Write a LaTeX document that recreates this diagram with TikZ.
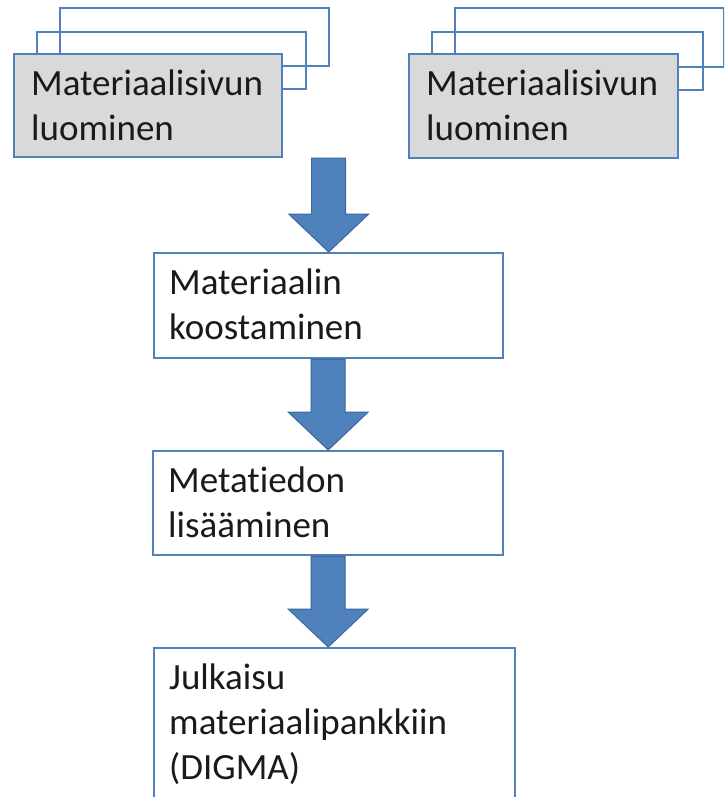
\documentclass[tikz,border=0pt]{standalone}
\usepackage{fontspec}
\setmainfont{Carlito}[Ligatures=NoCommon]
\usetikzlibrary{calc}
\definecolor{office}{HTML}{4F81BD}
\definecolor{officedk}{HTML}{3B679C}
\definecolor{pagegray}{HTML}{D9D9D9}
\definecolor{ink}{HTML}{1A1A1A}

\newcommand{\blkarrow}[2]{%
  \draw[blkarr] ($(#2 |- #1)+(-17,0)$) -- ($(#2)+(-17,-38)$) -- ($(#2)+(-40,-38)$) -- (#2)
    -- ($(#2)+(40,-38)$) -- ($(#2)+(17,-38)$) -- ($(#2 |- #1)+(17,0)$) -- cycle;}

\begin{document}
\begin{tikzpicture}[x=1pt, y=-1pt]
  \tikzset{
    box/.style    ={draw=office, line width=2.4pt, rectangle, inner sep=0pt, anchor=north west},
    backbox/.style={box},
    frontbox/.style={box, fill=pagegray},
    stepbox/.style={box, fill=white},
    txt/.style    ={anchor=base west, inner sep=0pt, align=left, text=ink,
                    font=\fontsize{37}{45}\selectfont},
    blkarr/.style ={fill=office, draw=officedk, line width=1pt, line join=miter},
  }
  \clip (0,0) rectangle (724,797);
  \fill[white] (0,0) rectangle (724,797);

  % left stack (base of the last line is given)
  \node[backbox,  minimum width=269pt, minimum height=58pt]  (lb3) at (59,7) {};
  \node[backbox,  minimum width=269pt, minimum height=57pt]  (lb2) at (36,31) {};
  \node[frontbox, minimum width=268pt, minimum height=103pt] (lb1) at (13,53) {};
  \node[txt] (lt) at ($(lb1.north west)+(18,87)$) {Materiaalisivun\\luominen};

  % right stack
  \node[backbox,  minimum width=269pt, minimum height=59pt]  (rb3) at (454,7) {};
  \node[backbox,  minimum width=271pt, minimum height=58pt]  (rb2) at (431,31) {};
  \node[frontbox, minimum width=269pt, minimum height=104pt] (rb1) at (408,53) {};
  \node[txt] (rt) at ($(rb1.north west)+(18,87)$) {Materiaalisivun\\luominen};

  % steps
  \node[stepbox, minimum width=349pt, minimum height=105pt] (koo) at (153,252) {};
  \node[txt] (koot) at ($(koo.north west)+(16,87)$) {Materiaalin\\koostaminen};
  \node[stepbox, minimum width=350pt, minimum height=104pt] (meta) at (152,450) {};
  \node[txt] (metat) at ($(meta.north west)+(16,87)$) {Metatiedon\\lisääminen};
  \node[stepbox, minimum width=361pt, minimum height=200pt] (julk) at (153,647) {};
  \node[txt] (julkt) at ($(julk.north west)+(16,132)$) {Julkaisu\\materiaalipankkiin\\(DIGMA)};

  \coordinate (top) at ($(koo.north)+(0,-94)$);
  \coordinate (tip) at (meta.south |- julk.north);
  \blkarrow{top}{koo.north}
  \blkarrow{koo.south}{meta.north}
  \blkarrow{meta.south}{tip}
\end{tikzpicture}
\end{document}
